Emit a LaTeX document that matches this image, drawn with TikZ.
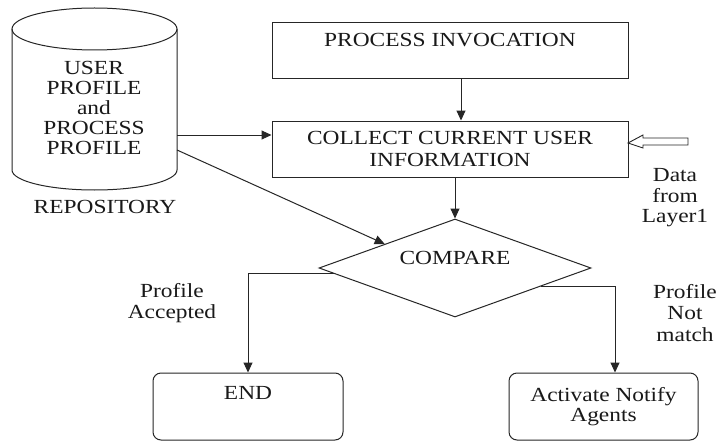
\documentclass[tikz,border=0pt]{standalone}
\usepackage{fontspec}
\setmainfont{Liberation Serif}[FakeStretch=1.17]
\usetikzlibrary{shapes.geometric,arrows.meta,calc}
\begin{document}
\begin{tikzpicture}[x=1pt,y=-1pt,
  every node/.style={font=\fontsize{20}{20.5}\selectfont, text=black!90},
  ln/.style={draw=black!85, line width=1pt},
  arr/.style={ln, -{Triangle[length=10pt,width=9pt]}},
  box/.style={ln, rectangle, inner sep=0, align=center},
  rbox/.style={ln, rectangle, rounded corners=8pt, inner sep=0, align=center},
  txt/.style={inner sep=0, align=center},
  decision/.style={ln, diamond, inner sep=0}]
\useasboundingbox[fill=white] (0,0) rectangle (719,441);

% repository cylinder
\draw[ln] (94.5,29) ellipse [x radius=82.5pt, y radius=21pt];
\draw[ln] (12,29) -- (12,170) arc[start angle=180, end angle=360, x radius=82.5pt, y radius=20pt] -- (177,29);
\node[txt, font=\fontsize{20}{20}\selectfont] (repo) at (94,108) {USER\\PROFILE\\and\\PROCESS\\PROFILE};
\node[txt] (repolab) at (105,207) {REPOSITORY};
\coordinate (r1) at (177,135);
\coordinate (r2) at (177,150);

% boxes
\node[box, minimum width=356pt, minimum height=56pt,
  label={[name=pitext, yshift=11pt, inner sep=0]center:PROCESS INVOCATION}] (pi) at (450,51) {};
\node[box, minimum width=356pt, minimum height=56pt, font=\fontsize{20}{22}\selectfont] (coll) at (450,149) {COLLECT CURRENT USER\\INFORMATION};
\node[decision, minimum width=272pt, minimum height=98pt,
  label={[name=cmptext, yshift=10pt, inner sep=0]center:COMPARE}] (cmp) at (455,268) {};
\node[rbox, minimum width=190pt, minimum height=67pt,
  label={[name=endtext, yshift=13.5pt, inner sep=0]center:END}] (endb) at (248,406.5) {};
\node[rbox, minimum width=189pt, minimum height=67pt] (act) at (603.5,406.5) {Activate Notify\\Agents};

% hollow input arrow
\coordinate (din) at (628,143);
\draw[ln, line width=0.9pt] (din) -- ++(15,-8) -- ++(0,3) -- ++(45,0) -- ++(0,7) -- ++(-45,0) -- ++(0,3) -- cycle;
\node[txt] (data) at (675,198) {Data\\from\\Layer1};

% labels
\node[txt, font=\fontsize{20}{21}\selectfont] (acc) at (172,303) {Profile\\Accepted};
\node[txt, font=\fontsize{20}{21.5}\selectfont] (nm) at (685,313) {Profile\\Not\\match};

% connectors
\draw[arr] ([xshift=11pt]pi.south) -- ([xshift=11pt]coll.north);
\draw[arr] (coll.south -| cmp.north) -- (cmp.north);
\draw[arr] (r1) -- (r1 -| coll.west);
\draw[arr] (r2) -- ($(cmp.west)!0.485!(cmp.north)$);
\draw[arr] ($(cmp.west)!0.12!(cmp.south)$) -| (endb.north);
\draw[arr] ($(cmp.east)!0.37!(cmp.south)$) -| ([xshift=11.5pt]act.north);
\end{tikzpicture}
\end{document}
